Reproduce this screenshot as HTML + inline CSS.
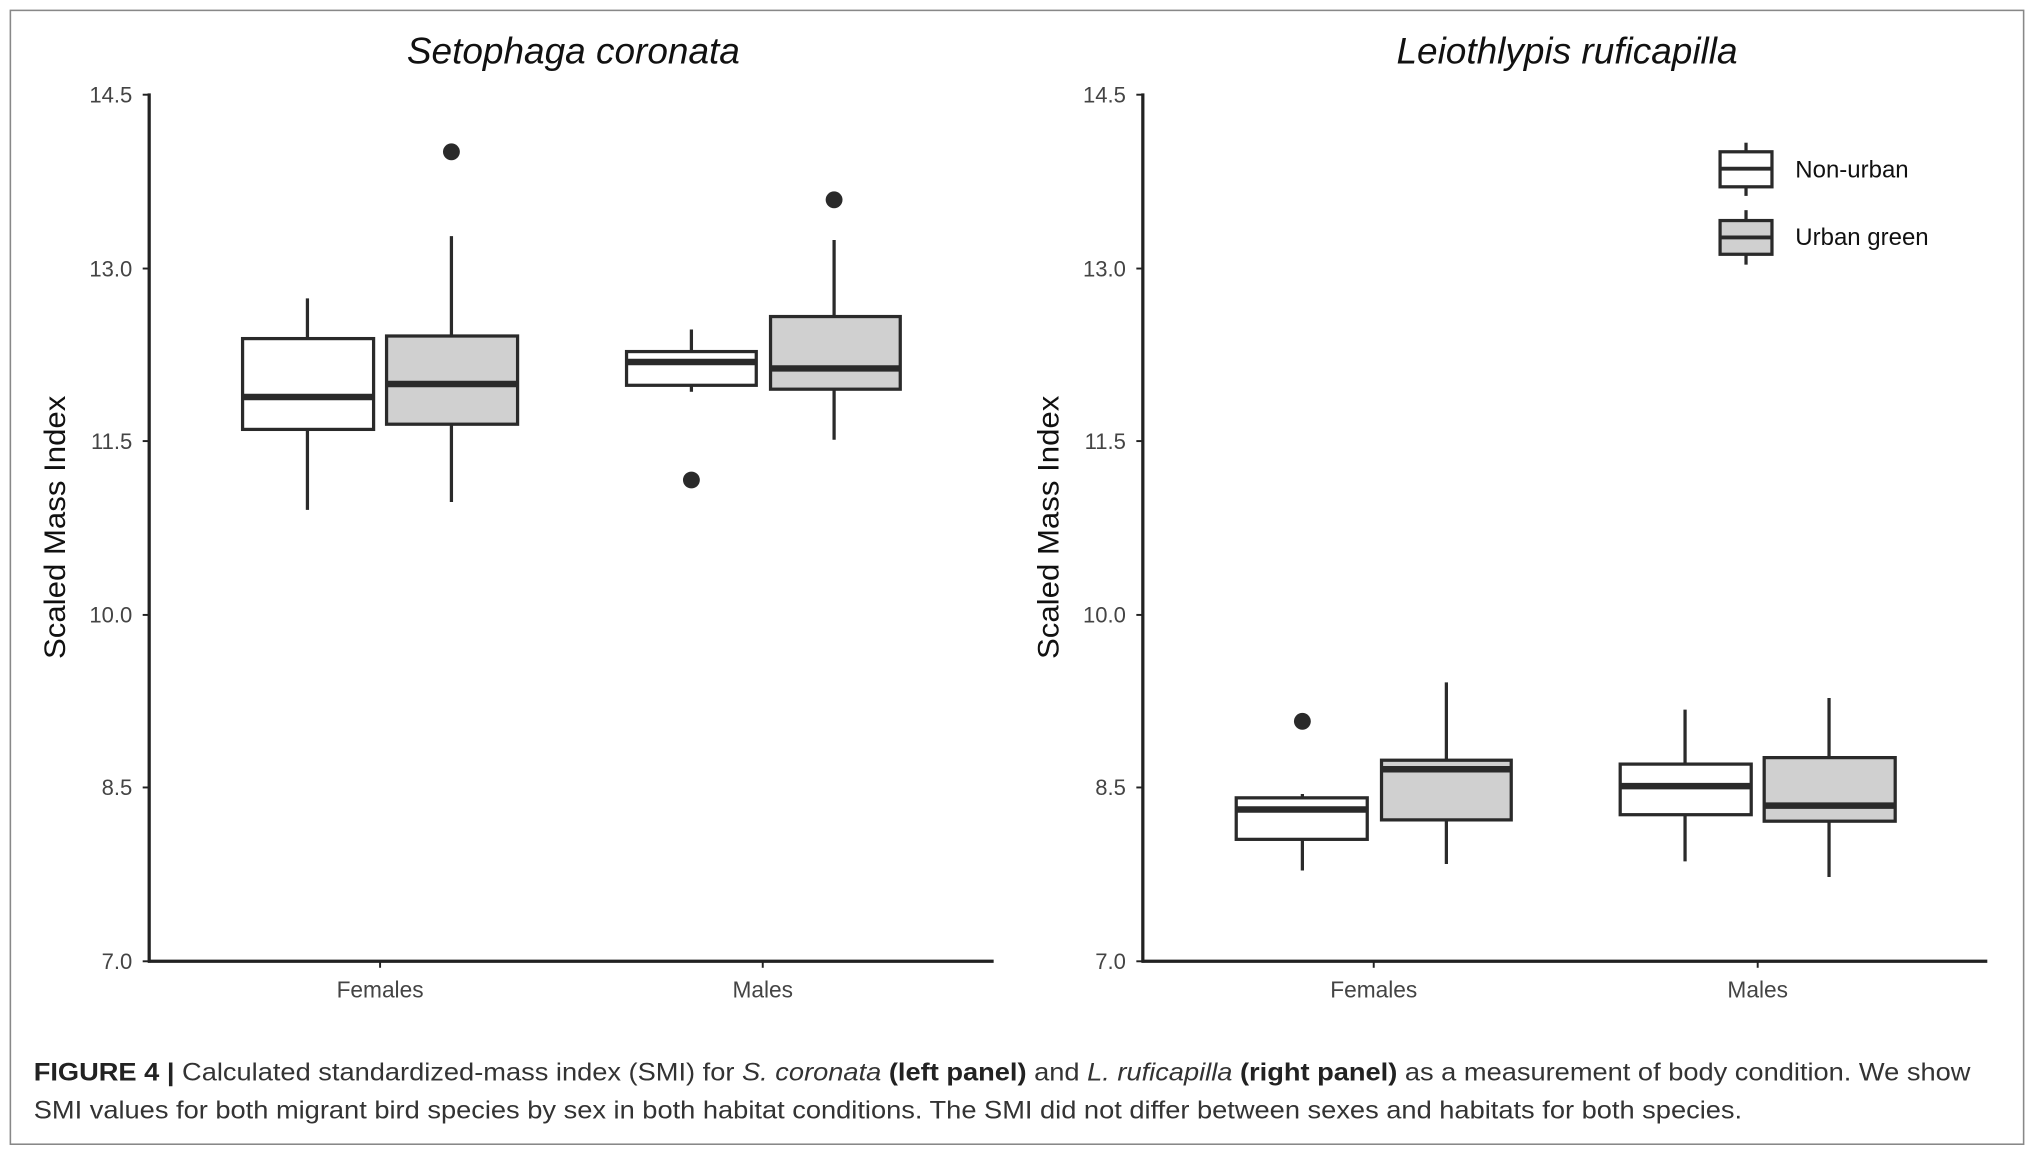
<!DOCTYPE html>
<html><head><style>html,body{margin:0;padding:0;background:#fff}svg{display:block}</style></head><body>
<svg width="2034" height="1152" viewBox="0 0 1568 888" preserveAspectRatio="none" xmlns="http://www.w3.org/2000/svg" font-family="Liberation Sans, sans-serif">
<rect x="0" y="0" width="1568" height="888" fill="#fff"/>
<rect x="8" y="8" width="1552" height="874" fill="none" stroke="#888" stroke-width="1.2"/>
<g stroke="#222" stroke-width="2.5" fill="none">
<line x1="115" y1="72" x2="115" y2="742"/><line x1="114" y1="741" x2="766" y2="741"/>
<line x1="881" y1="72" x2="881" y2="742"/><line x1="880" y1="741" x2="1532" y2="741"/>
</g>
<g stroke="#222" stroke-width="1.5">
<line x1="110" y1="73" x2="115" y2="73"/><line x1="110" y1="207" x2="115" y2="207"/><line x1="110" y1="340" x2="115" y2="340"/><line x1="110" y1="474" x2="115" y2="474"/><line x1="110" y1="607" x2="115" y2="607"/><line x1="110" y1="741" x2="115" y2="741"/>
<line x1="876" y1="73" x2="881" y2="73"/><line x1="876" y1="207" x2="881" y2="207"/><line x1="876" y1="340" x2="881" y2="340"/><line x1="876" y1="474" x2="881" y2="474"/><line x1="876" y1="607" x2="881" y2="607"/><line x1="876" y1="741" x2="881" y2="741"/>
<line x1="293" y1="741" x2="293" y2="746"/><line x1="588" y1="741" x2="588" y2="746"/>
<line x1="1059" y1="741" x2="1059" y2="746"/><line x1="1355" y1="741" x2="1355" y2="746"/>
</g>
<g font-size="17" fill="#444" text-anchor="end">
<text x="102" y="79">14.5</text><text x="102" y="213">13.0</text><text x="102" y="346">11.5</text><text x="102" y="480">10.0</text><text x="102" y="613">8.5</text><text x="102" y="747">7.0</text>
<text x="868" y="79">14.5</text><text x="868" y="213">13.0</text><text x="868" y="346">11.5</text><text x="868" y="480">10.0</text><text x="868" y="613">8.5</text><text x="868" y="747">7.0</text>
</g>
<g font-size="17.5" fill="#444" text-anchor="middle">
<text x="293" y="769">Females</text><text x="588" y="769">Males</text>
<text x="1059" y="769">Females</text><text x="1355" y="769">Males</text>
</g>
<g font-size="28.5" font-style="italic" fill="#111" text-anchor="middle">
<text x="442" y="49">Setophaga coronata</text><text x="1208" y="49">Leiothlypis ruficapilla</text>
</g>
<g font-size="22.5" fill="#111">
<text transform="translate(50,508) rotate(-90)" textLength="203" lengthAdjust="spacingAndGlyphs">Scaled Mass Index</text>
<text transform="translate(816,508) rotate(-90)" textLength="203" lengthAdjust="spacingAndGlyphs">Scaled Mass Index</text>
</g>
<g stroke="#2a2a2a" stroke-width="2.5">
<line x1="237" y1="230" x2="237" y2="393"/><line x1="348" y1="182" x2="348" y2="387"/>
<line x1="533" y1="254" x2="533" y2="302"/><line x1="643" y1="185" x2="643" y2="339"/>
<line x1="1004" y1="612" x2="1004" y2="671"/><line x1="1115" y1="526" x2="1115" y2="666"/>
<line x1="1299" y1="547" x2="1299" y2="664"/><line x1="1410" y1="538" x2="1410" y2="676"/>
<line x1="1346" y1="110" x2="1346" y2="151"/><line x1="1346" y1="162" x2="1346" y2="204"/>
</g>
<g stroke="#2a2a2a" stroke-width="2.5">
<rect x="187" y="261" width="101" height="70" fill="#fff"/>
<rect x="298" y="259" width="101" height="68" fill="#d0d0d0"/>
<rect x="483" y="271" width="100" height="26" fill="#fff"/>
<rect x="594" y="244" width="100" height="56" fill="#d0d0d0"/>
<rect x="953" y="615" width="101" height="32" fill="#fff"/>
<rect x="1065" y="586" width="100" height="46" fill="#d0d0d0"/>
<rect x="1249" y="589" width="101" height="39" fill="#fff"/>
<rect x="1360" y="584" width="101" height="49" fill="#d0d0d0"/>
<rect x="1326" y="117" width="40" height="27" fill="#fff"/>
<rect x="1326" y="170" width="40" height="26" fill="#d0d0d0"/>
</g>
<g stroke="#2a2a2a" stroke-width="5">
<line x1="187" y1="306" x2="288" y2="306"/><line x1="298" y1="296" x2="399" y2="296"/>
<line x1="483" y1="279" x2="583" y2="279"/><line x1="594" y1="284" x2="694" y2="284"/>
<line x1="953" y1="624" x2="1054" y2="624"/><line x1="1065" y1="593" x2="1165" y2="593"/>
<line x1="1249" y1="606" x2="1350" y2="606"/><line x1="1360" y1="621" x2="1461" y2="621"/>
</g>
<g stroke="#2a2a2a" stroke-width="3"><line x1="1326" y1="130" x2="1366" y2="130"/><line x1="1326" y1="183" x2="1366" y2="183"/></g>
<g fill="#2a2a2a">
<circle cx="348" cy="117" r="6.5"/><circle cx="533" cy="370" r="6.5"/><circle cx="643" cy="154" r="6.5"/><circle cx="1004" cy="556" r="6.5"/>
</g>
<g font-size="18.5" fill="#111"><text x="1384" y="137">Non-urban</text><text x="1384" y="189">Urban green</text></g>
<g font-size="19.5" fill="#333">
<text x="26" y="833" textLength="1493" lengthAdjust="spacingAndGlyphs"><tspan font-weight="bold" fill="#222">FIGURE 4 |</tspan> Calculated standardized-mass index (SMI) for <tspan font-style="italic">S. coronata</tspan> <tspan font-weight="bold" fill="#222">(left panel)</tspan> and <tspan font-style="italic">L. ruficapilla</tspan> <tspan font-weight="bold" fill="#222">(right panel)</tspan> as a measurement of body condition. We show</text>
<text x="26" y="862" textLength="1317" lengthAdjust="spacingAndGlyphs">SMI values for both migrant bird species by sex in both habitat conditions. The SMI did not differ between sexes and habitats for both species.</text>
</g>
</svg>
</body></html>
